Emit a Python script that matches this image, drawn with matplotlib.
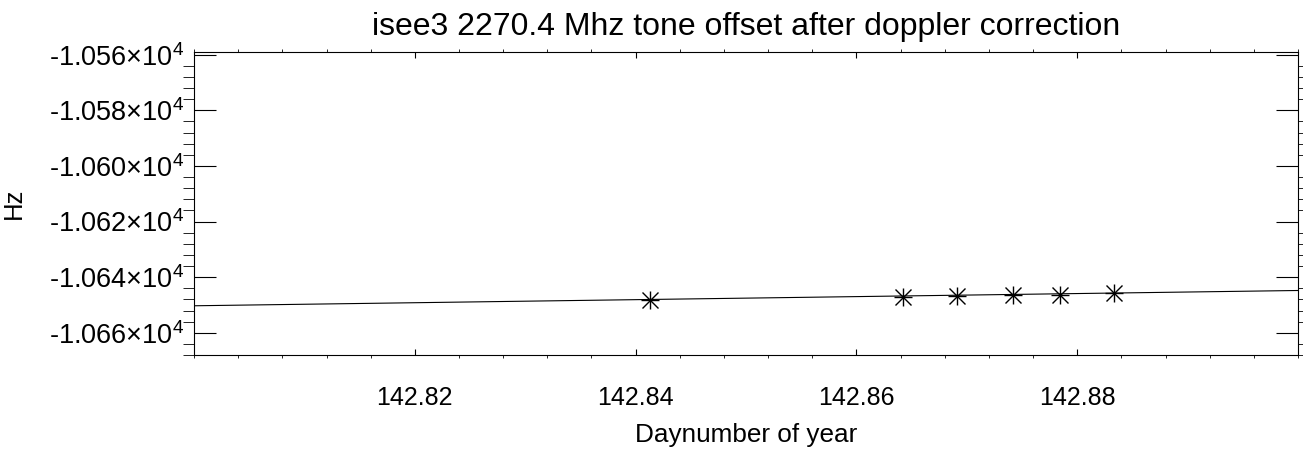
"""
isee3 tone offset after doppler correction: measured points plus linear fit.
"""
import numpy as np
import matplotlib
matplotlib.use('Agg')
import matplotlib.pyplot as plt
from matplotlib.ticker import MultipleLocator, FixedLocator, FuncFormatter

plt.rcParams['font.family'] = ['Liberation Sans', 'DejaVu Sans']
plt.rcParams['mathtext.fontset'] = 'custom'
plt.rcParams['mathtext.rm'] = 'Liberation Sans'
plt.rcParams['mathtext.it'] = 'Liberation Sans'

# Measured tone offsets (day number, Hz)
day = [142.8413, 142.8642, 142.8691, 142.8742, 142.8784, 142.8833]
offset_hz = [-10648.4, -10647.0, -10646.7, -10646.6, -10646.4, -10645.8]

# Linear fit, end points across the plot range
fit_day = [142.800, 142.900]
fit_hz = [-10650.3, -10644.8]

xticks = [142.82, 142.84, 142.86, 142.88]

fig = plt.figure(figsize=(13.03, 4.49), dpi=100)
ax = fig.add_axes([0.1489, 0.2094, 0.8473, 0.6748])

ax.plot(fit_day, fit_hz, color='black', lw=0.8)
ax.plot(day, offset_hz, ls='none', marker='+', ms=13, mew=1.0, color='black')
ax.plot(day, offset_hz, ls='none', marker='x', ms=11, mew=1.0, color='black')

ax.set_xlim(142.80, 142.90)
ax.set_ylim(-10668, -10559)

ax.xaxis.set_major_locator(FixedLocator(xticks))
ax.xaxis.set_minor_locator(MultipleLocator(0.004))
ax.yaxis.set_major_locator(MultipleLocator(20))
ax.yaxis.set_minor_locator(MultipleLocator(4))

ax.xaxis.set_major_formatter(FuncFormatter(lambda v, p: f'{v:.2f}'))
ax.yaxis.set_major_formatter(
    FuncFormatter(lambda v, p: r'-%.3f$\times$10$^{4}$' % (abs(v) / 1e4)))

ax.tick_params(axis='both', direction='in', top=True, right=True,
               width=0.8, color='black')
ax.tick_params(axis='x', which='major', length=4.3, pad=22, labelsize=18)
ax.tick_params(axis='x', which='minor', length=2.2, top=True)
ax.tick_params(axis='y', which='major', length=15.8, pad=7, labelsize=19.5)
ax.tick_params(axis='y', which='minor', length=7.9, right=True)
for s in ax.spines.values():
    s.set_linewidth(0.8)

ax.set_xlabel('Daynumber of year', fontsize=18.8, labelpad=10)
ax.set_ylabel('Hz', fontsize=18.5)
ax.yaxis.set_label_coords(-0.152, 0.5)
ax.set_title('isee3 2270.4 Mhz tone offset after doppler correction',
             fontsize=23, pad=12)

fig.savefig('out.png', dpi=100)
